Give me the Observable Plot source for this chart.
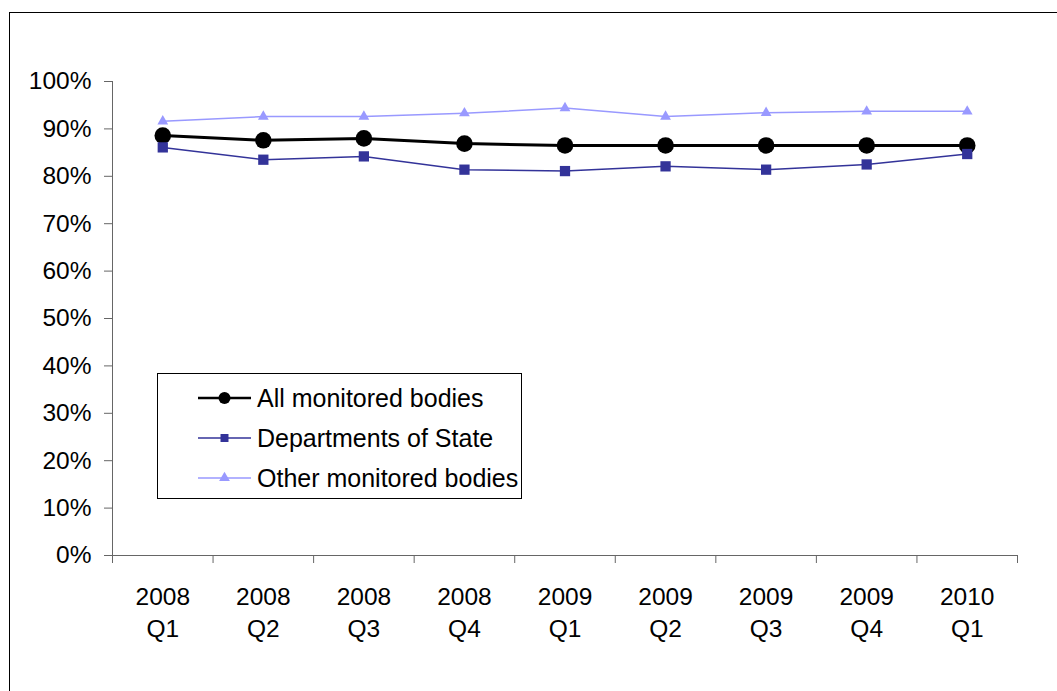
<!DOCTYPE html>
<html><head><meta charset="utf-8">
<script src="https://cdn.jsdelivr.net/npm/d3@7"></script>
<script src="https://cdn.jsdelivr.net/npm/@observablehq/plot@0.6"></script>
<style>
html,body{margin:0;padding:0;background:#fff;overflow:hidden;}
#wrap{position:relative;width:1057px;height:691px;overflow:hidden;font-family:"Liberation Sans",Arial,sans-serif;}
#frame{position:absolute;left:9px;top:12px;width:2000px;height:2000px;border-left:1px solid #000;border-top:1px solid #000;}
#chart{position:absolute;left:0;top:0;}
#legend{position:absolute;left:157px;top:373px;width:363px;height:124px;border:1px solid #000;background:#fff;}
</style></head><body>
<div id="wrap"><div id="frame"></div><div id="chart"></div><div id="legend"></div></div>
<script>
const quarters = ["2008\nQ1","2008\nQ2","2008\nQ3","2008\nQ4","2009\nQ1","2009\nQ2","2009\nQ3","2009\nQ4","2010\nQ1"];
const allBodies = [88.6, 87.6, 88.0, 86.9, 86.5, 86.5, 86.5, 86.5, 86.5];
const departments = [86.1, 83.5, 84.2, 81.4, 81.1, 82.1, 81.4, 82.5, 84.7];
const otherBodies = [91.6, 92.6, 92.6, 93.3, 94.4, 92.6, 93.4, 93.7, 93.7];
const seriesNames = ["All monitored bodies", "Departments of State", "Other monitored bodies"];
const yTicks = [0, 10, 20, 30, 40, 50, 60, 70, 80, 90, 100];

const colors = ["#000000", "#333399", "#9999FF"];
const symbols = ["circle", "square", "triangle"];
const radii = [8.3, 5.8, 4];
const widths = [3, 1.5, 1.5];

const rows = (vals) => vals.map((v, i) => ({i, v}));
const seriesData = [allBodies, departments, otherBodies].map(rows);
const boundaries = d3.range(quarters.length + 1).map(k => k - 0.5);

const marks = [
  Plot.axisX({ticks: boundaries, tickFormat: () => "", tickSize: 8, stroke: "#666", label: null}),
  Plot.axisY({ticks: yTicks, tickSize: 8, tickPadding: 13, tickFormat: d => d + "%", fontSize: 24.5, stroke: "#666", fill: "#000", label: null}),
  Plot.ruleY([0], {stroke: "#666"}),
  Plot.ruleX([-0.5], {stroke: "#666"}),
  Plot.text(quarters, {x: (d, i) => i, y: () => 0, text: d => d, lineAnchor: "top", dy: 27, lineHeight: 1.3, fontSize: 24.5, fill: "#000"})
];
seriesData.forEach((data, k) => {
  marks.push(Plot.line(data, {x: "i", y: "v", stroke: colors[k], strokeWidth: widths[k]}));
  marks.push(Plot.dot(data, {x: "i", y: "v", fill: colors[k], stroke: "none", r: radii[k], symbol: symbols[k]}));
});

const chart = Plot.plot({
  width: 1057, height: 691,
  marginLeft: 112, marginRight: 40, marginTop: 81, marginBottom: 136,
  style: {fontFamily: '"Liberation Sans", Arial, sans-serif', fontSize: "24px", color: "#000", background: "transparent"},
  x: {type: "linear", domain: [-0.5, quarters.length - 0.5], axis: null},
  y: {domain: [0, 100], axis: null},
  marks
});
document.getElementById("chart").appendChild(chart);

// legend
const lsvg = d3.select("#legend").append("svg").attr("width", 363).attr("height", 124)
  .style("font-family", '"Liberation Sans", Arial, sans-serif');
const legR = [6, 4.5, 4];
seriesNames.forEach((name, k) => {
  const y = 24 + k * 40;
  lsvg.append("line").attr("x1", 40).attr("x2", 93).attr("y1", y).attr("y2", y)
    .attr("stroke", colors[k]).attr("stroke-width", k === 0 ? 2.5 : 1.5);
  const sym = [d3.symbolCircle, d3.symbolSquare, d3.symbolTriangle][k];
  lsvg.append("path").attr("d", d3.symbol(sym, Math.PI * legR[k] * legR[k])())
    .attr("transform", `translate(66.5,${y})`).attr("fill", colors[k]);
  lsvg.append("text").attr("x", 99).attr("y", y).attr("dy", "0.35em")
    .attr("font-size", 25).attr("fill", "#000").text(name);
});
</script>
</body></html>
